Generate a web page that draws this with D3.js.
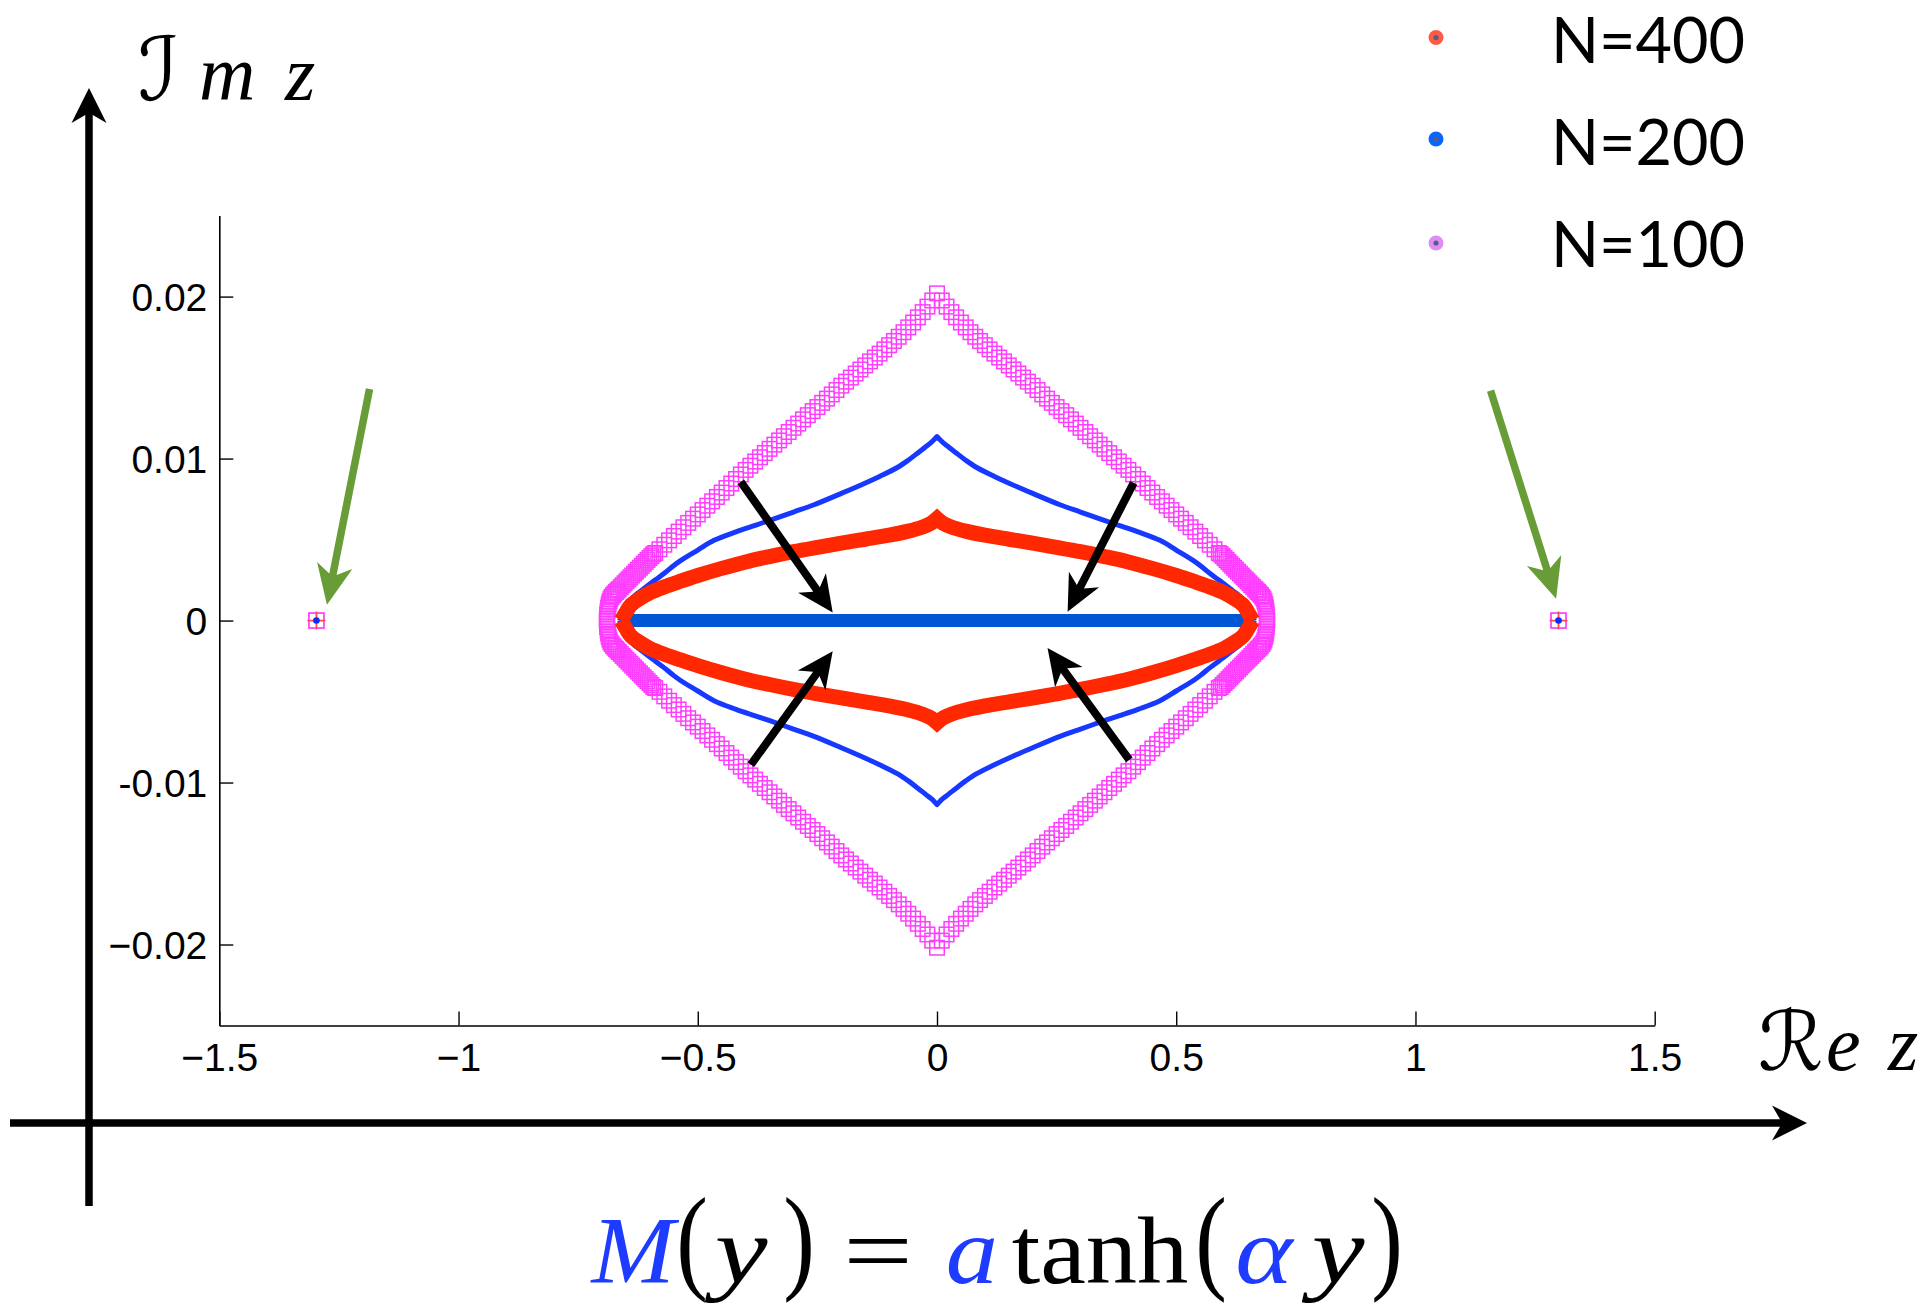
<!DOCTYPE html>
<html>
<head>
<meta charset="utf-8">
<script src="https://cdn.jsdelivr.net/npm/d3@7"></script>
<style>
  html, body { margin: 0; padding: 0; background: #fff; }
  svg { display: block; }
</style>
</head>
<body>
<svg id="chart" width="1932" height="1305"></svg>
<script>
// ---------- axis ticks ----------
const xTickValues = [-1.5, -1, -0.5, 0, 0.5, 1, 1.5];
const xTickLabels = ["\u22121.5", "\u22121", "\u22120.5", "0", "0.5", "1", "1.5"];
const yTickValues = [0.02, 0.01, 0, -0.01, -0.02];
const yTickLabels = ["0.02", "0.01", "0", "-0.01", "\u22120.02"];

// ---------- N = 100 spectrum (square markers) ----------
const n100Re = [
  -0.69,-0.6898,-0.6893,-0.6885,-0.6875,-0.6862,-0.6845,-0.6825,-0.68,-0.677,-0.674,-0.671,-0.668,-0.665,-0.661,-0.657,-0.653,-0.649,-0.645,-0.641,-0.637,-0.633,-0.629,-0.625,-0.621,-0.617,-0.613,-0.609,-0.605,-0.601,-0.597,-0.593,-0.589,
  -0.58,-0.57,-0.56,-0.55,-0.54,-0.53,-0.52,-0.51,-0.5,-0.49,-0.48,-0.47,-0.46,-0.45,-0.44,-0.43,-0.42,-0.41,-0.4,-0.39,-0.38,-0.37,-0.36,-0.35,-0.34,-0.33,-0.32,-0.31,-0.3,-0.29,-0.28,-0.27,-0.26,-0.25,-0.24,-0.23,-0.22,-0.21,-0.2,-0.19,-0.18,-0.17,-0.16,-0.15,-0.14,-0.13,-0.12,-0.11,-0.1,-0.09,-0.08,-0.07,-0.06,-0.05,-0.04,-0.03,-0.02,-0.01,
  0,
  0.01,0.02,0.03,0.04,0.05,0.06,0.07,0.08,0.09,0.1,0.11,0.12,0.13,0.14,0.15,0.16,0.17,0.18,0.19,0.2,0.21,0.22,0.23,0.24,0.25,0.26,0.27,0.28,0.29,0.3,0.31,0.32,0.33,0.34,0.35,0.36,0.37,0.38,0.39,0.4,0.41,0.42,0.43,0.44,0.45,0.46,0.47,0.48,0.49,0.5,0.51,0.52,0.53,0.54,0.55,0.56,0.57,0.58,
  0.589,0.593,0.597,0.601,0.605,0.609,0.613,0.617,0.621,0.625,0.629,0.633,0.637,0.641,0.645,0.649,0.653,0.657,0.661,0.665,0.668,0.671,0.674,0.677,0.68,0.6825,0.6845,0.6862,0.6875,0.6885,0.6893,0.6898,0.69
];
const n100ImUp = [
  0,0.0002,0.0004,0.0006,0.0008,0.001,0.00118,0.00134,0.00146,0.00157,0.00167,0.00176,0.00185,0.00194,0.00206,0.00218,0.0023,0.00242,0.00254,0.00266,0.00278,0.0029,0.00302,0.00314,0.00326,0.00338,0.0035,0.00362,0.00374,0.00386,0.00398,0.0041,0.00417,
  0.0044,0.00468,0.00495,0.00522,0.00549,0.00576,0.00603,0.00629,0.00655,0.00682,0.00709,0.00736,0.00763,0.0079,0.00818,0.00846,0.00874,0.00902,0.0093,0.00956,0.00982,0.01008,0.01034,0.0106,0.01086,0.01112,0.01138,0.01164,0.0119,0.01216,0.01242,0.01268,0.01293,0.01318,0.01344,0.0137,0.01396,0.01423,0.0145,0.01475,0.015,0.01525,0.0155,0.01575,0.016,0.01624,0.01648,0.01674,0.017,0.01726,0.01752,0.0178,0.0181,0.0184,0.01872,0.01904,0.01938,0.01976,
  0.0202,
  0.01976,0.01938,0.01904,0.01872,0.0184,0.0181,0.0178,0.01752,0.01726,0.017,0.01674,0.01648,0.01624,0.016,0.01575,0.0155,0.01525,0.015,0.01475,0.0145,0.01423,0.01396,0.0137,0.01344,0.01318,0.01293,0.01268,0.01242,0.01216,0.0119,0.01164,0.01138,0.01112,0.01086,0.0106,0.01034,0.01008,0.00982,0.00956,0.0093,0.00902,0.00874,0.00846,0.00818,0.0079,0.00763,0.00736,0.00709,0.00682,0.00655,0.00629,0.00603,0.00576,0.00549,0.00522,0.00495,0.00468,0.0044,
  0.00417,0.0041,0.00398,0.00386,0.00374,0.00362,0.0035,0.00338,0.00326,0.00314,0.00302,0.0029,0.00278,0.00266,0.00254,0.00242,0.0023,0.00218,0.00206,0.00194,0.00185,0.00176,0.00167,0.00157,0.00146,0.00134,0.00118,0.001,0.0008,0.0006,0.0004,0.0002,0
];
const n100ImDown = [
  0,-0.0002,-0.0004,-0.0006,-0.0008,-0.001,-0.00118,-0.00134,-0.00146,-0.00157,-0.00167,-0.00176,-0.00185,-0.00194,-0.00206,-0.00218,-0.0023,-0.00242,-0.00254,-0.00266,-0.00278,-0.0029,-0.00302,-0.00314,-0.00326,-0.00338,-0.0035,-0.00362,-0.00374,-0.00386,-0.00398,-0.0041,-0.00417,
  -0.0044,-0.00468,-0.00495,-0.00522,-0.00549,-0.00576,-0.00603,-0.00629,-0.00655,-0.00682,-0.00709,-0.00736,-0.00763,-0.0079,-0.00818,-0.00846,-0.00874,-0.00902,-0.0093,-0.00956,-0.00982,-0.01008,-0.01034,-0.0106,-0.01086,-0.01112,-0.01138,-0.01164,-0.0119,-0.01216,-0.01242,-0.01268,-0.01293,-0.01318,-0.01344,-0.0137,-0.01396,-0.01423,-0.0145,-0.01475,-0.015,-0.01525,-0.0155,-0.01575,-0.016,-0.01624,-0.01648,-0.01674,-0.017,-0.01726,-0.01752,-0.0178,-0.0181,-0.0184,-0.01872,-0.01904,-0.01938,-0.01976,
  -0.0202,
  -0.01976,-0.01938,-0.01904,-0.01872,-0.0184,-0.0181,-0.0178,-0.01752,-0.01726,-0.017,-0.01674,-0.01648,-0.01624,-0.016,-0.01575,-0.0155,-0.01525,-0.015,-0.01475,-0.0145,-0.01423,-0.01396,-0.0137,-0.01344,-0.01318,-0.01293,-0.01268,-0.01242,-0.01216,-0.0119,-0.01164,-0.01138,-0.01112,-0.01086,-0.0106,-0.01034,-0.01008,-0.00982,-0.00956,-0.0093,-0.00902,-0.00874,-0.00846,-0.00818,-0.0079,-0.00763,-0.00736,-0.00709,-0.00682,-0.00655,-0.00629,-0.00603,-0.00576,-0.00549,-0.00522,-0.00495,-0.00468,-0.0044,
  -0.00417,-0.0041,-0.00398,-0.00386,-0.00374,-0.00362,-0.0035,-0.00338,-0.00326,-0.00314,-0.00302,-0.0029,-0.00278,-0.00266,-0.00254,-0.00242,-0.0023,-0.00218,-0.00206,-0.00194,-0.00185,-0.00176,-0.00167,-0.00157,-0.00146,-0.00134,-0.00118,-0.001,-0.0008,-0.0006,-0.0004,-0.0002,0
];

// ---------- N = 200 spectrum (thin curve) ----------
const n200Re = [
  -0.663,-0.66,-0.655,-0.648,-0.64,-0.63,-0.62,-0.605,-0.59,-0.57,-0.55,-0.536,-0.5,-0.466,-0.42,-0.38,-0.348,-0.3,-0.257,-0.2,-0.153,-0.12,-0.083,-0.06,-0.04,-0.025,-0.012,-0.005,
  0,
  0.005,0.012,0.025,0.04,0.06,0.083,0.12,0.153,0.2,0.257,0.3,0.348,0.38,0.42,0.466,0.5,0.536,0.55,0.57,0.59,0.605,0.62,0.63,0.64,0.648,0.655,0.66,0.663
];
const n200ImUp = [
  0,0.0003,0.00055,0.0009,0.0013,0.00158,0.0018,0.00215,0.00248,0.00292,0.0034,0.0037,0.00435,0.00495,0.00548,0.00588,0.0062,0.0067,0.00715,0.00785,0.00845,0.0089,0.00945,0.0099,0.01035,0.0107,0.011,0.0112,
  0.01136,
  0.0112,0.011,0.0107,0.01035,0.0099,0.00945,0.0089,0.00845,0.00785,0.00715,0.0067,0.0062,0.00588,0.00548,0.00495,0.00435,0.0037,0.0034,0.00292,0.00248,0.00215,0.0018,0.00158,0.0013,0.0009,0.00055,0.0003,0
];
const n200ImDown = [
  0,-0.0003,-0.00055,-0.0009,-0.0013,-0.00158,-0.0018,-0.00215,-0.00248,-0.00292,-0.0034,-0.0037,-0.00435,-0.00495,-0.00548,-0.00588,-0.0062,-0.0067,-0.00715,-0.00785,-0.00845,-0.0089,-0.00945,-0.0099,-0.01035,-0.0107,-0.011,-0.0112,
  -0.01136,
  -0.0112,-0.011,-0.0107,-0.01035,-0.0099,-0.00945,-0.0089,-0.00845,-0.00785,-0.00715,-0.0067,-0.0062,-0.00588,-0.00548,-0.00495,-0.00435,-0.0037,-0.0034,-0.00292,-0.00248,-0.00215,-0.0018,-0.00158,-0.0013,-0.0009,-0.00055,-0.0003,0
];
// real-axis segment of the N = 200 spectrum
const n200AxisRe = [-0.661, 0.654];
const n200AxisIm = [0, 0];

// ---------- N = 400 spectrum (dense band) ----------
const n400Re = [
  -0.66,-0.65,-0.64,-0.62,-0.6,-0.57,-0.536,-0.5,-0.45,-0.4,-0.35,-0.3,-0.25,-0.2,-0.15,-0.1,-0.06,-0.03,-0.012,
  0,
  0.012,0.03,0.06,0.1,0.15,0.2,0.25,0.3,0.35,0.4,0.45,0.5,0.536,0.57,0.6,0.62,0.64,0.65,0.66
];
const n400ImUp = [
  0,0.0005,0.00095,0.00138,0.00172,0.00208,0.00243,0.00278,0.00322,0.00362,0.00395,0.00425,0.00452,0.00478,0.00502,0.00527,0.00552,0.00578,0.00602,
  0.0063,
  0.00602,0.00578,0.00552,0.00527,0.00502,0.00478,0.00452,0.00425,0.00395,0.00362,0.00322,0.00278,0.00243,0.00208,0.00172,0.00138,0.00095,0.0005,0
];
const n400ImDown = [
  0,-0.0005,-0.00095,-0.00138,-0.00172,-0.00208,-0.00243,-0.00278,-0.00322,-0.00362,-0.00395,-0.00425,-0.00452,-0.00478,-0.00502,-0.00527,-0.00552,-0.00578,-0.00602,
  -0.0063,
  -0.00602,-0.00578,-0.00552,-0.00527,-0.00502,-0.00478,-0.00452,-0.00425,-0.00395,-0.00362,-0.00322,-0.00278,-0.00243,-0.00208,-0.00172,-0.00138,-0.00095,-0.0005,0
];

// ---------- isolated real eigenvalues (all N) ----------
const isolatedRe = [-1.297, 1.299];
const isolatedIm = [0, 0];

// ---------- legend ----------
const legendLabels = ["N=400", "N=200", "N=100"];
const legendColors = ["#ff5a48", "#0a64ff", "#e08cf6"];

// ---------- annotation arrows, in data coordinates [re0, im0, re1, im1] ----------
const inwardArrows = [
  [-0.410, 0.00856, -0.218, 0.0005],
  [0.411, 0.0085, 0.273, 0.00055],
  [-0.389, -0.0089, -0.218, -0.0019],
  [0.402, -0.0086, 0.231, -0.0017]
];
const outlierArrows = [
  [-1.186, 0.0143, -1.275, 0.00098],
  [1.157, 0.0142, 1.294, 0.00135]
];

// ---------- scales ----------
const svg = d3.select("#chart");
const x = d3.scaleLinear().domain([-1.5, 1.5]).range([219.3, 1654.7]);
const y = d3.scaleLinear().domain([-0.025, 0.025]).range([1025.5, 215.6]);

const tickFont = "'Liberation Sans', Arial, Helvetica, sans-serif";

// x axis (ticks pointing inward)
const gx = svg.append("g")
  .attr("transform", `translate(0,${y(-0.025)})`)
  .call(d3.axisBottom(x).tickValues(xTickValues)
    .tickFormat((d, i) => xTickLabels[i])
    .tickSize(-14).tickSizeOuter(0));
gx.select(".domain").attr("stroke", "#000").attr("stroke-width", 1.6);
gx.selectAll(".tick line").attr("stroke", "#000").attr("stroke-width", 1.4);
gx.selectAll(".tick text")
  .attr("y", 45).attr("dy", 0)
  .attr("font-family", tickFont).attr("font-size", 39).attr("fill", "#000");

// y axis (ticks pointing inward)
const gy = svg.append("g")
  .attr("transform", `translate(${x(-1.5)},0)`)
  .call(d3.axisLeft(y).tickValues(yTickValues)
    .tickFormat((d, i) => yTickLabels[i])
    .tickSize(-14).tickSizeOuter(0).tickPadding(12));
gy.select(".domain").attr("stroke", "#000").attr("stroke-width", 1.6);
gy.selectAll(".tick line").attr("stroke", "#000").attr("stroke-width", 1.4);
gy.selectAll(".tick text")
  .attr("dy", "0.36em")
  .attr("font-family", tickFont).attr("font-size", 39).attr("fill", "#000");

// ---------- spectra ----------
const toPts = (re, im) => re.map((r, i) => ({ re: r, im: im[i] }));
const smooth = d3.line().x(d => x(d.re)).y(d => y(d.im)).curve(d3.curveCatmullRom.alpha(0.5));
const straight = d3.line().x(d => x(d.re)).y(d => y(d.im));

// a branch is smooth on either side of the cusp at Re z = 0, joined in one sub-path
function branchPath(re, im) {
  const pts = toPts(re, im);
  const mid = re.indexOf(0);
  const left = smooth(pts.slice(0, mid + 1));
  const right = smooth(pts.slice(mid)).replace(/^M[-\d.e,]+/, "");
  return left + right;
}

// N = 100: open squares
const n100Pts = toPts(n100Re, n100ImUp).concat(toPts(n100Re, n100ImDown));
const sq = 14.5;
svg.append("g").attr("class", "n100")
  .selectAll("rect").data(n100Pts).join("rect")
  .attr("x", d => x(d.re) - sq / 2).attr("y", d => y(d.im) - sq / 2)
  .attr("width", sq).attr("height", sq)
  .attr("fill", "none").attr("stroke", "#ff3dff").attr("stroke-width", 1.5);

// N = 200: thin curves
const g200 = svg.append("g").attr("class", "n200");
[n200ImUp, n200ImDown].forEach(im => {
  g200.append("path").attr("d", branchPath(n200Re, im)).attr("fill", "none")
    .attr("stroke", "#1638ff").attr("stroke-width", 5)
    .attr("stroke-linejoin", "round");
});

// N = 400: dense band
const g400 = svg.append("g").attr("class", "n400");
[n400ImUp, n400ImDown].forEach(im => {
  g400.append("path").attr("d", branchPath(n400Re, im)).attr("fill", "none")
    .attr("stroke", "#ff2800").attr("stroke-width", 15)
    .attr("stroke-linejoin", "miter").attr("stroke-miterlimit", 3);
});

// N = 200: real-axis segment
g200.append("path").datum(toPts(n200AxisRe, n200AxisIm))
  .attr("d", straight).attr("fill", "none")
  .attr("stroke", "#0057d6").attr("stroke-width", 13);

// isolated eigenvalues
const iso = toPts(isolatedRe, isolatedIm);
const gIso = svg.append("g").attr("class", "isolated");
gIso.selectAll("rect").data(iso).join("rect")
  .attr("x", d => x(d.re) - 7.5).attr("y", d => y(d.im) - 7.5)
  .attr("width", 15).attr("height", 15)
  .attr("fill", "none").attr("stroke", "#ff3dff").attr("stroke-width", 1.7);
gIso.selectAll("path").data(iso).join("path")
  .attr("d", d => `M${x(d.re) - 9},${y(d.im)}h18M${x(d.re)},${y(d.im) - 9}v18`)
  .attr("stroke", "#ff4b4b").attr("stroke-width", 1.8);
gIso.selectAll("circle").data(iso).join("circle")
  .attr("cx", d => x(d.re)).attr("cy", d => y(d.im)).attr("r", 3.3)
  .attr("fill", "#0a2cff");

// ---------- arrows ----------
function arrowPath(x1, y1, x2, y2, w, L, H, n) {
  const dx = x2 - x1, dy = y2 - y1, len = Math.hypot(dx, dy);
  const ux = dx / len, uy = dy / len, vx = -uy, vy = ux;
  const p = [
    [x1 + vx * w / 2, y1 + vy * w / 2],
    [x2 - ux * (L - n) + vx * w / 2, y2 - uy * (L - n) + vy * w / 2],
    [x2 - ux * L + vx * H, y2 - uy * L + vy * H],
    [x2, y2],
    [x2 - ux * L - vx * H, y2 - uy * L - vy * H],
    [x2 - ux * (L - n) - vx * w / 2, y2 - uy * (L - n) - vy * w / 2],
    [x1 - vx * w / 2, y1 - vy * w / 2]
  ];
  return "M" + p.map(q => q.join(",")).join("L") + "Z";
}

svg.append("g").selectAll("path").data(inwardArrows).join("path")
  .attr("d", a => arrowPath(x(a[0]), y(a[1]), x(a[2]), y(a[3]), 8, 36, 17, 8))
  .attr("fill", "#000");

svg.append("g").selectAll("path").data(outlierArrows).join("path")
  .attr("d", a => arrowPath(x(a[0]), y(a[1]), x(a[2]), y(a[3]), 7.5, 40, 18, 9))
  .attr("fill", "#689c36");

// outer complex-plane axes
const planeX = { x1: 10, x2: 1807, y: 1123 };
const planeY = { x: 89, y1: 1206, y2: 88 };
svg.append("path")
  .attr("d", arrowPath(planeX.x1, planeX.y, planeX.x2, planeX.y, 7.5, 35, 17.5, 8))
  .attr("fill", "#000");
svg.append("path")
  .attr("d", arrowPath(planeY.x, planeY.y1, planeY.x, planeY.y2, 7.5, 35, 17.5, 8))
  .attr("fill", "#000");

// axis titles
const scriptFont = "'DejaVu Serif', 'DejaVu Sans', serif";
const mathFont = "'Liberation Serif', 'Times New Roman', serif";
const imLabel = svg.append("text").attr("y", 100).attr("font-size", 78).attr("fill", "#000");
imLabel.append("tspan").attr("x", 138).attr("font-family", scriptFont).attr("font-size", 88).text("\u2110");
imLabel.append("tspan").attr("x", 199).attr("font-family", mathFont).attr("font-style", "italic").text("m");
imLabel.append("tspan").attr("x", 285).attr("font-family", mathFont).attr("font-style", "italic").text("z");

const reLabel = svg.append("text").attr("y", 1070).attr("font-size", 78).attr("fill", "#000");
reLabel.append("tspan").attr("x", 1758).attr("font-family", scriptFont).attr("font-size", 82).text("\u211B");
reLabel.append("tspan").attr("x", 1826).attr("font-family", mathFont).attr("font-style", "italic").text("e");
reLabel.append("tspan").attr("x", 1888).attr("font-family", mathFont).attr("font-style", "italic").text("z");

// ---------- legend ----------
const legendY = [37.5, 139, 243];
const legendBase = [62.5, 164.5, 266.5];
const gl = svg.append("g").attr("class", "legend");
legendLabels.forEach((lab, i) => {
  gl.append("circle").attr("cx", 1436).attr("cy", legendY[i]).attr("r", 7.5).attr("fill", legendColors[i]);
  gl.append("circle").attr("cx", 1436).attr("cy", legendY[i]).attr("r", 2.6).attr("fill", "#56607e");
  gl.append("text").attr("x", 1551).attr("y", legendBase[i])
    .attr("font-family", "Lato, 'Open Sans', sans-serif").attr("font-size", 64)
    .attr("textLength", 194).attr("lengthAdjust", "spacingAndGlyphs")
    .attr("fill", "#000").text(lab);
});

// ---------- model formula ----------
// each symbol centred in its own slot; parentheses stretched vertically
const blue = "#1e3cff";
const formulaParts = [
  { t: "M", cx: 633, it: true, c: blue, sx: 1.05, sy: 1 },
  { t: "(", cx: 692, it: false, c: "#000", sx: 1, sy: 1.22 },
  { t: "y", cx: 741, it: true, c: "#000", sx: 1.25, sy: 1 },
  { t: ")", cx: 799, it: false, c: "#000", sx: 1, sy: 1.22 },
  { t: "=", cx: 878, it: false, c: "#000", sx: 1.3, sy: 1 },
  { t: "a", cx: 972, it: true, c: blue, sx: 1.1, sy: 1 },
  { t: "tanh", cx: 1100, it: false, c: "#000", sx: 1.08, sy: 1 },
  { t: "(", cx: 1211, it: false, c: "#000", sx: 1, sy: 1.22 },
  { t: "\u03B1", cx: 1264, it: true, c: blue, sx: 1.15, sy: 1 },
  { t: "y", cx: 1338, it: true, c: "#000", sx: 1.25, sy: 1 },
  { t: ")", cx: 1387, it: false, c: "#000", sx: 1, sy: 1.22 }
];
const formulaBase = 1283;
const gf = svg.append("g").attr("class", "formula");
formulaParts.forEach(p => {
  gf.append("text")
    .attr("transform", `translate(${p.cx},${formulaBase}) scale(${p.sx},${p.sy})`)
    .attr("dy", p.sy > 1 ? "-0.04em" : 0)
    .attr("text-anchor", "middle")
    .attr("font-family", mathFont).attr("font-size", 95)
    .attr("font-style", p.it ? "italic" : "normal")
    .attr("fill", p.c).text(p.t);
});
</script>
</body>
</html>
